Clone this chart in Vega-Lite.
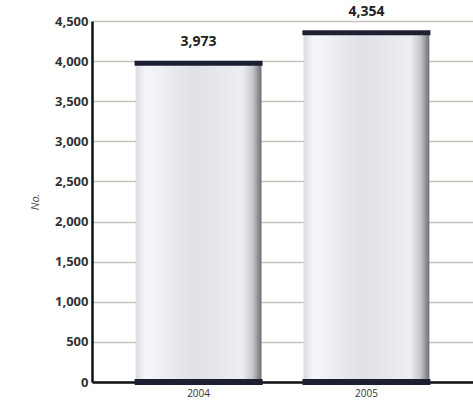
{
  "$schema": "https://vega.github.io/schema/vega-lite/v6.json",
  "autosize": "none",
  "width": 381,
  "height": 361,
  "padding": {"left": 92, "top": 21, "right": 0, "bottom": 27},
  "background": "white",
  "config": {"view": {"stroke": null}, "font": "Open Sans"},
  "data": {"values": [{"year": "2004", "value": 3973}, {"year": "2005", "value": 4354}]},
  "encoding": {
    "x": {"field": "year", "type": "nominal", "sort": null,
      "scale": {"paddingInner": 0.25, "paddingOuter": 0.26},
      "axis": {"title": null, "labelAngle": 0, "labelFontSize": 10, "labelColor": "#333333", "labelPadding": 6,
        "ticks": false, "domainColor": "#111111", "domainWidth": 2.5, "grid": false}}
  },
  "layer": [
    {
      "mark": {"type": "bar",
        "fill": {"gradient": "linear", "x1": 0, "y1": 0, "x2": 1, "y2": 0,
          "stops": [
            {"offset": 0, "color": "#d9dbe0"},
            {"offset": 0.08, "color": "#f6f7f9"},
            {"offset": 0.45, "color": "#dfe1e7"},
            {"offset": 0.85, "color": "#eceef2"},
            {"offset": 0.93, "color": "#c4c6cc"},
            {"offset": 1, "color": "#6e6f73"}
          ]}},
      "encoding": {
        "y": {"field": "value", "type": "quantitative",
          "scale": {"domain": [0, 4500], "nice": false},
          "axis": {"values": [0, 500, 1000, 1500, 2000, 2500, 3000, 3500, 4000, 4500], "format": ",d",
            "title": "No.", "titleFontStyle": "italic", "titleFontWeight": "normal", "titleFontSize": 11,
            "titleColor": "#444444", "titlePadding": 14,
            "labelFontSize": 13, "labelFontWeight": "bold", "labelColor": "#333333", "labelPadding": 4,
            "ticks": false, "domainColor": "#111111", "domainWidth": 2.5,
            "grid": true, "gridColor": "#c9c2bb", "gridWidth": 1.5}}
      }
    },
    {
      "mark": {"type": "tick", "color": "#1d2033", "thickness": 5, "opacity": 1},
      "encoding": {"y": {"field": "value", "type": "quantitative"}, "size": {"value": 128}}
    },
    {
      "mark": {"type": "tick", "color": "#1d2033", "thickness": 6, "opacity": 1},
      "encoding": {"y": {"datum": 0}, "size": {"value": 128}}
    },
    {
      "mark": {"type": "text", "dy": -21, "fontWeight": "bold", "fontSize": 14, "color": "#222222"},
      "encoding": {"y": {"field": "value", "type": "quantitative"}, "text": {"field": "value", "type": "quantitative", "format": ",d"}}
    }
  ]
}
